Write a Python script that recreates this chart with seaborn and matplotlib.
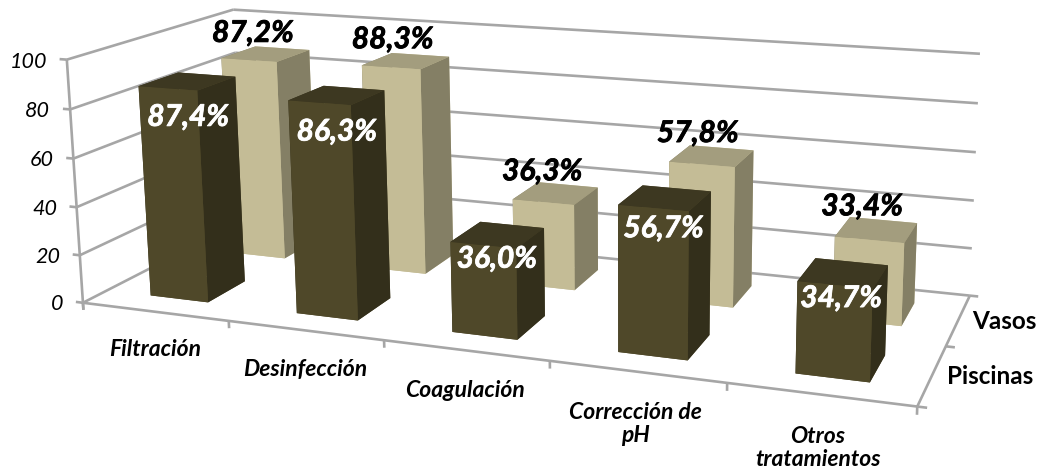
import numpy as np
import matplotlib
matplotlib.use("Agg")
import matplotlib.pyplot as plt
from matplotlib import patheffects
from mpl_toolkits.mplot3d import proj3d
from mpl_toolkits.mplot3d.art3d import Line3DCollection
import seaborn as sns

categorias = ["Filtración", "Desinfección", "Coagulación", "Corrección de\npH", "Otros\ntratamientos"]
series = ["Piscinas", "Vasos"]
piscinas = [87.4, 86.3, 36.0, 56.7, 34.7]
vasos = [87.2, 88.3, 36.3, 57.8, 33.4]
z_ticks = [0, 20, 40, 60, 80, 100]

sns.set_theme(style="white")
plt.rcParams["font.family"] = ["Lato", "DejaVu Sans"]

W, H = 1044, 473
GRID = "#A6A6A6"

# camera fitted on the corners of the chart box: (x, y, z/100) -> image pixel
box = [(0, 0, 0), (5, 0, 0), (5, 2, 0), (5, 2, 1), (0, 0, 1), (0, 2, 1)]
pix = [(83, 303), (917, 407), (970, 295), (980, 54), (67, 59), (233, 10)]
rows = []
for (x, y, z), (u, v) in zip(box, pix):
    rows.append([x, y, z, 1, 0, 0, 0, 0, -u * x, -u * y, -u * z, -u])
    rows.append([0, 0, 0, 0, x, y, z, 1, -v * x, -v * y, -v * z, -v])
cam = np.linalg.svd(np.array(rows, dtype=float))[2][-1].reshape(3, 4)
if cam[2, 3] < 0:
    cam = -cam
cam[:, 2] /= 100.0
M = np.array([cam[0], H * cam[2] - cam[1], [0, 0, 0, -1], cam[2]])

fig = plt.figure(figsize=(W / 100, H / 100), dpi=100)
ax = fig.add_axes([0, (H - W) / 2 / H, 1, W / H], projection="3d")
ax.viewLim.intervalx = (0, W)
ax.viewLim.intervaly = ((H - W) / 2, (H + W) / 2)
ax.get_proj = lambda: M
ax.computed_zorder = False
ax.set_xticks([])
ax.set_yticks([])
ax.set_zticks([])
ax.set_axis_off()


def rotulo(x, y, z, texto, **kw):
    # text placed through the same camera as the bars
    px, py, _ = proj3d.proj_transform(x, y, z, M)
    return ax.text2D(float(px), float(py), texto, transform=ax.transData, zorder=10, **kw)


# walls and floor
segs = []
for z in z_ticks:
    segs.append([(0, 0, z), (0, 2, z)])
    segs.append([(0, 2, z), (5, 2, z)])
    segs.append([(-0.05, 0, z), (0, 0, z)])
    rotulo(-0.14, 0, z - 1.5, str(z), ha="right", va="center", style="italic", fontsize=15.5, color="black")
segs.append([(0, 0, -3), (0, 0, 100)])
segs.append([(0, 0, 0), (5, 0, 0)])
segs.append([(5, 0, 0), (5, 2, 0)])
for i in range(6):
    segs.append([(i, 0, -3), (i, 0, 0)])
for j in range(3):
    segs.append([(5, j, 0), (5.05, j, 0)])
ax.add_collection3d(Line3DCollection(segs, colors=GRID, linewidths=1.9, zorder=1), autolim=False)

# bars, back row first; faces: bottom, top, front, back, left, right
ancho, fondo = 0.4, 0.46
caras = {
    "Vasos": ["#C4BC96", "#A39D7E", "#C4BC96", "#C4BC96", "#847F65", "#847F65"],
    "Piscinas": ["#4F4829", "#3D3821", "#4F4829", "#4F4829", "#332F1B", "#332F1B"],
}
for j, (nombre, valores) in reversed(list(enumerate(zip(series, [piscinas, vasos])))):
    for i, v in enumerate(valores):
        ax.bar3d(i + 0.508 - ancho / 2, j + 0.5 - fondo / 2, 0, ancho, fondo, v,
                 color=caras[nombre], shade=False, edgecolor="none", zorder=3 - j)
        etiqueta = f"{v:.1f}%".replace(".", ",")
        if nombre == "Vasos":
            t = rotulo(i + 0.42, j + 0.5, v + 9, etiqueta, ha="center", va="center",
                       weight="bold", style="italic", fontsize=21.5, color="black")
            trazo = "black"
        else:
            t = rotulo(i + 0.5, j + 0.5, 0.9 * v - 6, etiqueta, ha="center", va="center",
                       weight="bold", style="italic", fontsize=21.5, color="white")
            trazo = "white"
        t.set_path_effects([patheffects.withStroke(linewidth=0.6, foreground=trazo)])

for i, c in enumerate(categorias):
    rotulo(i + 0.49, 0, -11.7, c, ha="center", va="top", weight="bold", style="italic",
           fontsize=16.5, color="black", linespacing=1.12)
for j, s in enumerate(series):
    rotulo(5.08, j + 0.5, 0, s, ha="left", va="center", weight="bold", fontsize=17.5, color="black")

fig.savefig("out.png", dpi=100)
